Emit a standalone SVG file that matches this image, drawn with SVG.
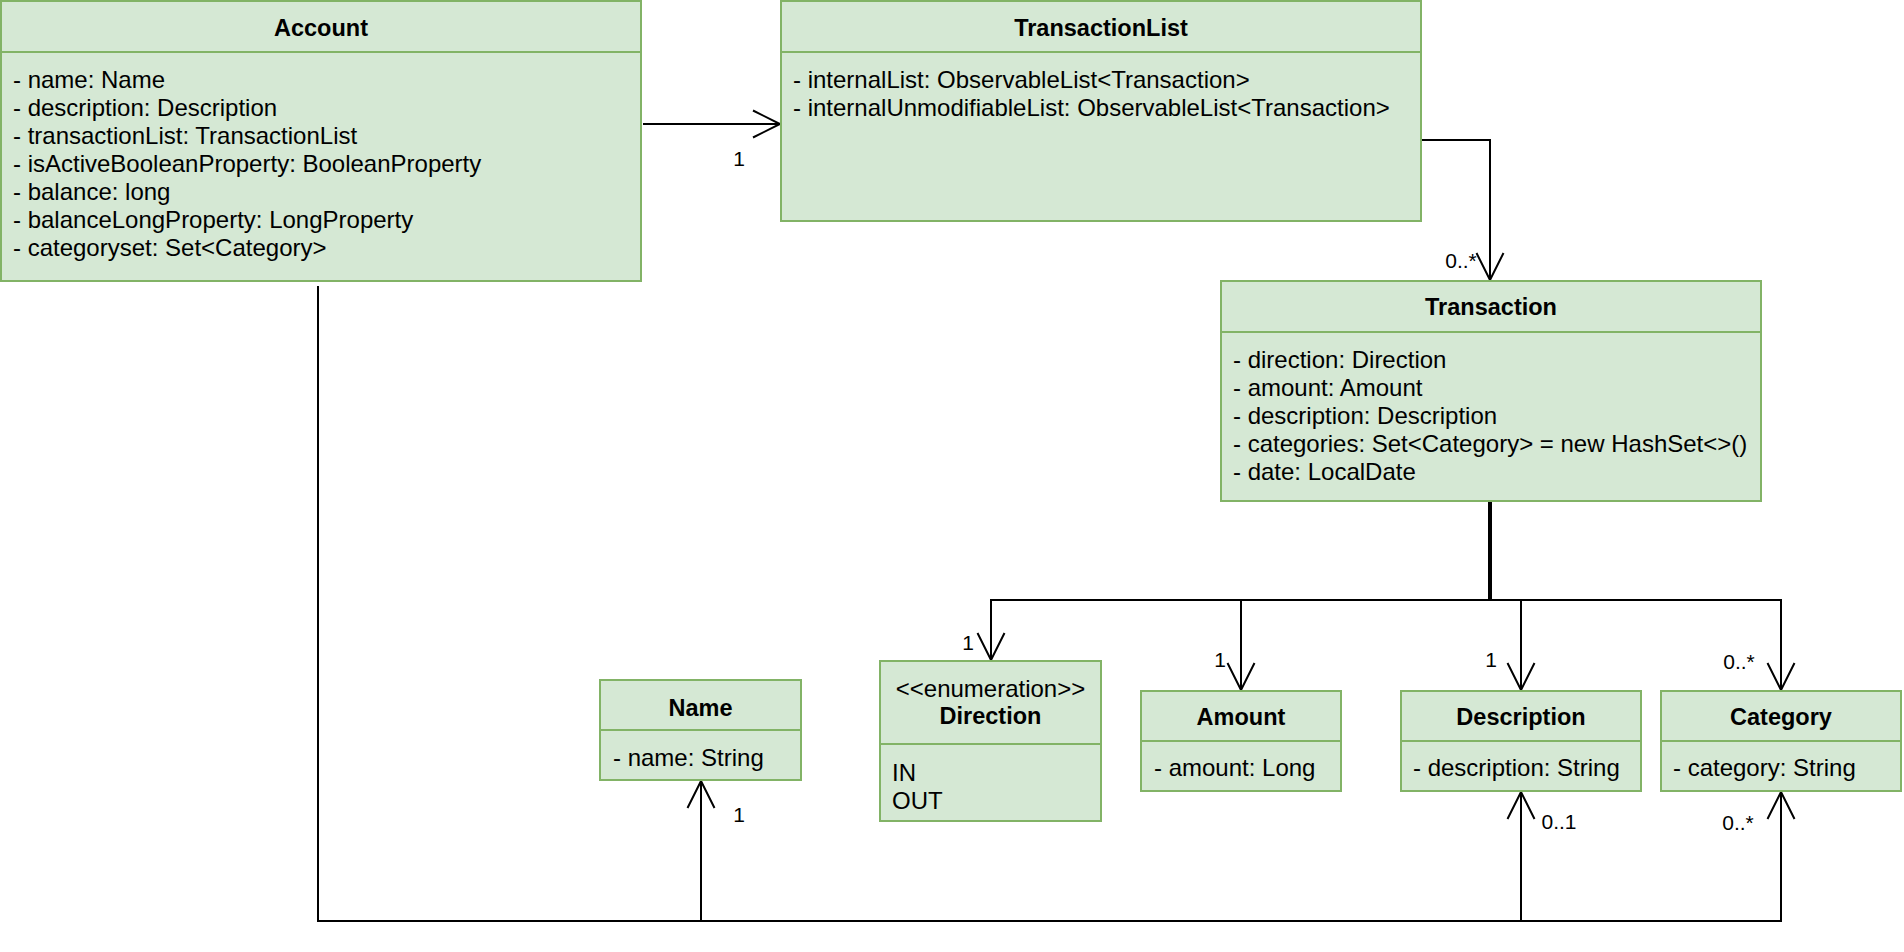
<svg xmlns="http://www.w3.org/2000/svg" width="1904" height="952" viewBox="0 0 1904 952">
<style>
.box{fill:#d5e8d4;stroke:#82b366;stroke-width:2}
.sep{stroke:#82b366;stroke-width:2}
.t{font-family:"Liberation Sans",Arial,sans-serif;font-size:24px;fill:#000}
.b{font-weight:bold;text-anchor:middle;font-size:23.5px}
.c{text-anchor:middle}
.lbl{font-family:"Liberation Sans",Arial,sans-serif;font-size:21px;fill:#000;text-anchor:middle}
.e{fill:none;stroke:#000;stroke-width:2}
</style>
<defs>
<marker id="open" markerUnits="userSpaceOnUse" markerWidth="32" markerHeight="32" refX="29" refY="15" orient="auto" overflow="visible">
<path d="M2,1.5 L29,15 L2,28.5" fill="none" stroke="#000" stroke-width="2"/>
</marker>
</defs>
<rect width="1904" height="952" fill="#fff"/>
<g id="connectors">
<path class="e" d="M643,124 L780,124" marker-end="url(#open)"/>
<path class="e" d="M1421,140 L1490,140 L1490,280" marker-end="url(#open)"/>
<path d="M1490,501 L1490,600" fill="none" stroke="#000" stroke-width="4"/>
<path class="e" d="M1490,600 L991,600 L991,660" marker-end="url(#open)"/>
<path class="e" d="M1490,600 L1241,600 L1241,690" marker-end="url(#open)"/>
<path class="e" d="M1490,600 L1521,600 L1521,690" marker-end="url(#open)"/>
<path class="e" d="M1490,600 L1781,600 L1781,690" marker-end="url(#open)"/>
<path class="e" d="M318,286 L318,921 L701,921 L701,781" marker-end="url(#open)"/>
<path class="e" d="M701,921 L1521,921 L1521,792" marker-end="url(#open)"/>
<path class="e" d="M1521,921 L1781,921 L1781,792" marker-end="url(#open)"/>
<text class="lbl" x="739" y="166">1</text>
<text class="lbl" x="1461" y="268">0..*</text>
<text class="lbl" x="968" y="650">1</text>
<text class="lbl" x="1220" y="667">1</text>
<text class="lbl" x="1491" y="667">1</text>
<text class="lbl" x="1739" y="669">0..*</text>
<text class="lbl" x="739" y="822">1</text>
<text class="lbl" x="1559" y="829">0..1</text>
<text class="lbl" x="1738" y="830">0..*</text>
</g>
<g id="Account">
<rect class="box" x="1" y="1" width="640" height="280"/>
<line class="sep" x1="1" y1="52" x2="641" y2="52"/>
<text class="t b" x="321" y="36">Account</text>
<text class="t" x="13" y="88">- name: Name</text>
<text class="t" x="13" y="116">- description: Description</text>
<text class="t" x="13" y="144">- transactionList: TransactionList</text>
<text class="t" x="13" y="172">- isActiveBooleanProperty: BooleanProperty</text>
<text class="t" x="13" y="200">- balance: long</text>
<text class="t" x="13" y="228">- balanceLongProperty: LongProperty</text>
<text class="t" x="13" y="256">- categoryset: Set&lt;Category&gt;</text>
</g>
<g id="TransactionList">
<rect class="box" x="781" y="1" width="640" height="220"/>
<line class="sep" x1="781" y1="52" x2="1421" y2="52"/>
<text class="t b" x="1101" y="36">TransactionList</text>
<text class="t" x="793" y="88">- internalList: ObservableList&lt;Transaction&gt;</text>
<text class="t" x="793" y="116">- internalUnmodifiableList: ObservableList&lt;Transaction&gt;</text>
</g>
<g id="Transaction">
<rect class="box" x="1221" y="281" width="540" height="220"/>
<line class="sep" x1="1221" y1="332" x2="1761" y2="332"/>
<text class="t b" x="1491" y="315">Transaction</text>
<text class="t" x="1233" y="368">- direction: Direction</text>
<text class="t" x="1233" y="396">- amount: Amount</text>
<text class="t" x="1233" y="424">- description: Description</text>
<text class="t" x="1233" y="452">- categories: Set&lt;Category&gt; = new HashSet&lt;&gt;()</text>
<text class="t" x="1233" y="480">- date: LocalDate</text>
</g>
<g id="Name">
<rect class="box" x="600" y="680" width="201" height="100"/>
<line class="sep" x1="600" y1="730" x2="801" y2="730"/>
<text class="t b" x="700.5" y="716">Name</text>
<text class="t" x="613" y="766">- name: String</text>
</g>
<g id="Direction">
<rect class="box" x="880" y="661" width="221" height="160"/>
<line class="sep" x1="880" y1="744" x2="1101" y2="744"/>
<text class="t c" x="990.5" y="697">&lt;&lt;enumeration&gt;&gt;</text>
<text class="t b" x="990.5" y="724">Direction</text>
<text class="t" x="892" y="781">IN</text>
<text class="t" x="892" y="809">OUT</text>
</g>
<g id="Amount">
<rect class="box" x="1141" y="691" width="200" height="100"/>
<line class="sep" x1="1141" y1="741" x2="1341" y2="741"/>
<text class="t b" x="1241" y="725">Amount</text>
<text class="t" x="1154" y="776">- amount: Long</text>
</g>
<g id="Description">
<rect class="box" x="1401" y="691" width="240" height="100"/>
<line class="sep" x1="1401" y1="741" x2="1641" y2="741"/>
<text class="t b" x="1521" y="725">Description</text>
<text class="t" x="1413" y="776">- description: String</text>
</g>
<g id="Category">
<rect class="box" x="1661" y="691" width="240" height="100"/>
<line class="sep" x1="1661" y1="741" x2="1901" y2="741"/>
<text class="t b" x="1781" y="725">Category</text>
<text class="t" x="1673" y="776">- category: String</text>
</g>
</svg>
